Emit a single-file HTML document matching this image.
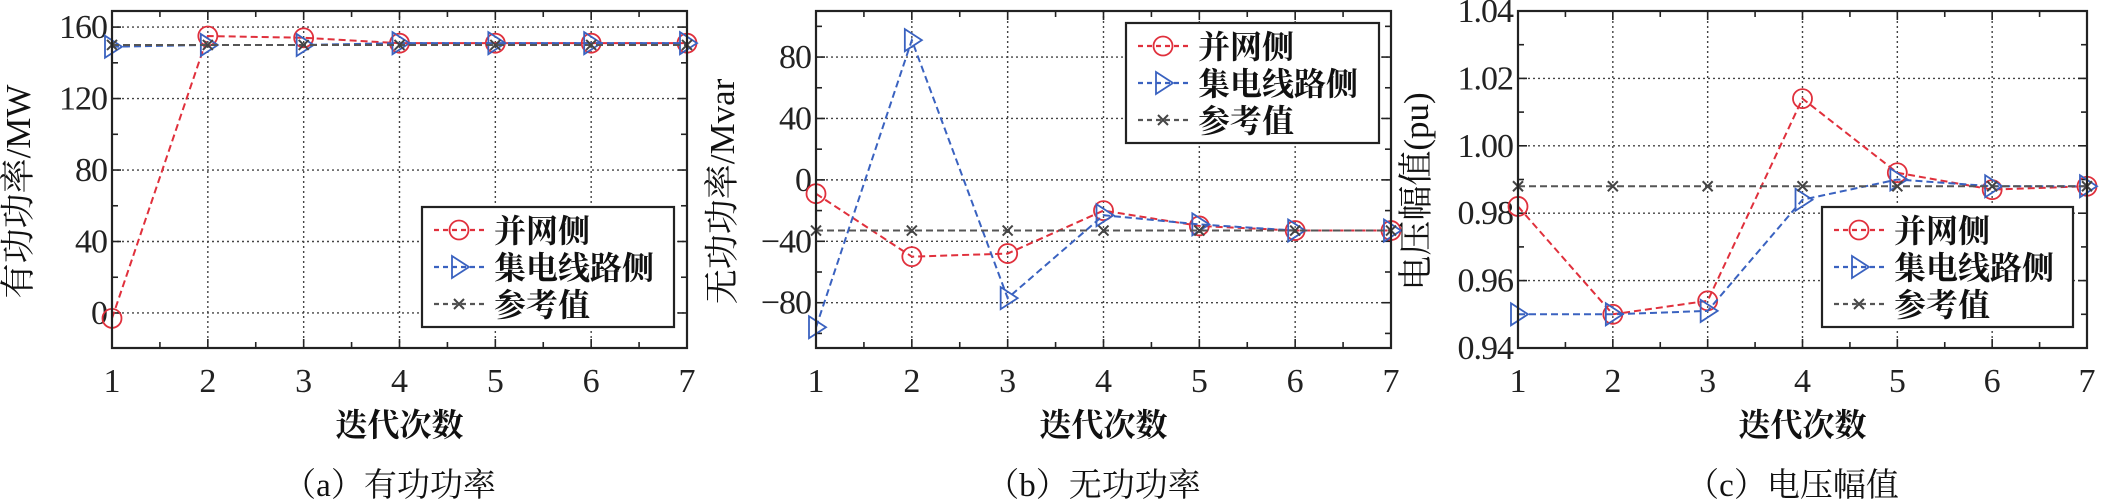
<!DOCTYPE html>
<html><head><meta charset="utf-8"><style>
html,body{margin:0;padding:0;background:#fff;}
svg{display:block;}
text{font-family:"Liberation Serif","Noto Serif CJK SC",serif;}
</style></head><body>
<svg id="s" width="2106" height="501" xmlns="http://www.w3.org/2000/svg"></svg>
<script>
const S=document.getElementById('s');let h='';
function panel(o){
 const {L,R,T,B,ymin,ymax,yt,ylab,cap,data,leg,fmt,ylx,minor}=o;
 const X=i=>L+(i-1)*(R-L)/6, Y=v=>B-(v-ymin)/(ymax-ymin)*(B-T);
 for(let i=2;i<=6;i++)h+=`<line x1="${X(i)}" y1="${T}" x2="${X(i)}" y2="${B}" stroke="#444" stroke-width="1.4" stroke-dasharray="2,3"/>`;
 yt.forEach(v=>{const y=Y(v);if(y>T+2&&y<B-2)h+=`<line x1="${L}" y1="${y}" x2="${R}" y2="${y}" stroke="#444" stroke-width="1.4" stroke-dasharray="2,3"/>`;});
 for(let i=1;i<=7;i+=0.5){const x=X(i),len=i%1?6:9;h+=`<line x1="${x}" y1="${B}" x2="${x}" y2="${B-len}" stroke="#222" stroke-width="1.6"/><line x1="${x}" y1="${T}" x2="${x}" y2="${T+len}" stroke="#222" stroke-width="1.6"/>`;
  if(i%1==0)h+=`<text x="${x}" y="${B+44}" font-size="34" text-anchor="middle" fill="#222">${i}</text>`;}
 minor.forEach(v=>{const y=Y(v);h+=`<line x1="${L}" y1="${y}" x2="${L+6}" y2="${y}" stroke="#222" stroke-width="1.6"/><line x1="${R}" y1="${y}" x2="${R-6}" y2="${y}" stroke="#222" stroke-width="1.6"/>`;});
 yt.forEach(v=>{const y=Y(v);h+=`<line x1="${L}" y1="${y}" x2="${L+9}" y2="${y}" stroke="#222" stroke-width="1.6"/><line x1="${R}" y1="${y}" x2="${R-9}" y2="${y}" stroke="#222" stroke-width="1.6"/><text x="${L-5}" y="${y+11}" font-size="34" text-anchor="end" fill="#222" letter-spacing="-1">${fmt(v).replace('-','−')}</text>`;});
 const cols=['#e0303c','#3a62c0','#555'];
 data.forEach((d,k)=>{const pts=d.map((v,i)=>X(i+1)+','+Y(v)).join(' ');
  h+=`<polyline points="${pts}" fill="none" stroke="${cols[k]}" stroke-width="2" stroke-dasharray="7,4"/>`;
  d.forEach((v,i)=>h+=mk(k,X(i+1),Y(v)));});
 h+=`<rect x="${L}" y="${T}" width="${R-L}" height="${B-T}" fill="none" stroke="#222" stroke-width="2.2"/>`;
 const [lx,ly,lw,lh]=leg;
 h+=`<rect x="${lx}" y="${ly}" width="${lw}" height="${lh}" fill="#fff" stroke="#222" stroke-width="2.2"/>`;
 const names=['并网侧','集电线路侧','参考值'];
 names.forEach((n,k)=>{const y=ly+23+k*37;
  h+=`<line x1="${lx+12}" y1="${y}" x2="${lx+62}" y2="${y}" stroke="${cols[k]}" stroke-width="2.2" stroke-dasharray="5,4"/>`+mk(k,lx+37,y);
  h+=`<text x="${lx+72}" y="${y+12}" font-size="32" font-weight="bold" fill="#111" font-family="Noto Sans CJK SC,sans-serif">${n}</text>`;});
 h+=`<text x="${(L+R)/2}" y="${B+88}" font-size="32" font-weight="bold" text-anchor="middle" fill="#111" font-family="Noto Sans CJK SC,sans-serif">迭代次数</text>`;
 h+=`<text x="${(L+R)/2-10}" y="${B+148}" font-size="33" text-anchor="middle" fill="#111" font-family="Liberation Serif,Noto Serif CJK SC,serif">（${cap}</text>`;
 h+=`<text transform="translate(${ylx},${(T+B)/2+12}) rotate(-90)" font-size="35" text-anchor="middle" fill="#111" font-family="Liberation Serif,Noto Sans CJK SC,sans-serif">${ylab}</text>`;
}
function mk(k,x,y){
 if(k==0)return `<circle cx="${x}" cy="${y}" r="9.5" fill="none" stroke="#e0303c" stroke-width="1.8"/>`;
 if(k==1)return `<polygon points="${x-7},${y-11} ${x+10},${y} ${x-7},${y+11}" fill="none" stroke="#3a62c0" stroke-width="1.8"/>`;
 return `<path d="M${x-5} ${y-5}L${x+5} ${y+5}M${x-5} ${y+5}L${x+5} ${y-5}" stroke="#444" stroke-width="2"/>`;
}
panel({L:112,R:687,T:11,B:348,ymin:-19.6,ymax:169,yt:[0,40,80,120,160],minor:[20,60,100,140],fmt:v=>''+v,ylx:30,ylab:'有功功率/MW',cap:'a）有功功率',
 data:[[-3,155,154,151,151,151,151],[149,150,150,151,151,151,151],[150,150,150,150,150,150,150]],leg:[422,207,252,120]});
panel({L:816,R:1391,T:11,B:348,ymin:-109.5,ymax:110,yt:[-80,-40,0,40,80],minor:[-100,-60,-20,20,60,100],fmt:v=>''+v,ylx:734,ylab:'无功功率/Mvar',cap:'b）无功功率',
 data:[[-9,-50,-48,-20,-30,-33,-33],[-96,91,-77,-23,-29,-33,-33],[-33,-33,-33,-33,-33,-33,-33]],leg:[1126,23,253,120]});
panel({L:1518,R:2087,T:11,B:348,ymin:0.94,ymax:1.04,yt:[0.94,0.96,0.98,1.00,1.02,1.04],minor:[0.95,0.97,0.99,1.01,1.03],fmt:v=>v.toFixed(2),ylx:1428,ylab:'电压幅值(pu)',cap:'c）电压幅值',
 data:[[0.982,0.950,0.954,1.014,0.992,0.987,0.988],[0.950,0.950,0.951,0.984,0.990,0.988,0.988],[0.988,0.988,0.988,0.988,0.988,0.988,0.988]],leg:[1822,207,251,120]});
S.innerHTML=h;
</script>
</body></html>
